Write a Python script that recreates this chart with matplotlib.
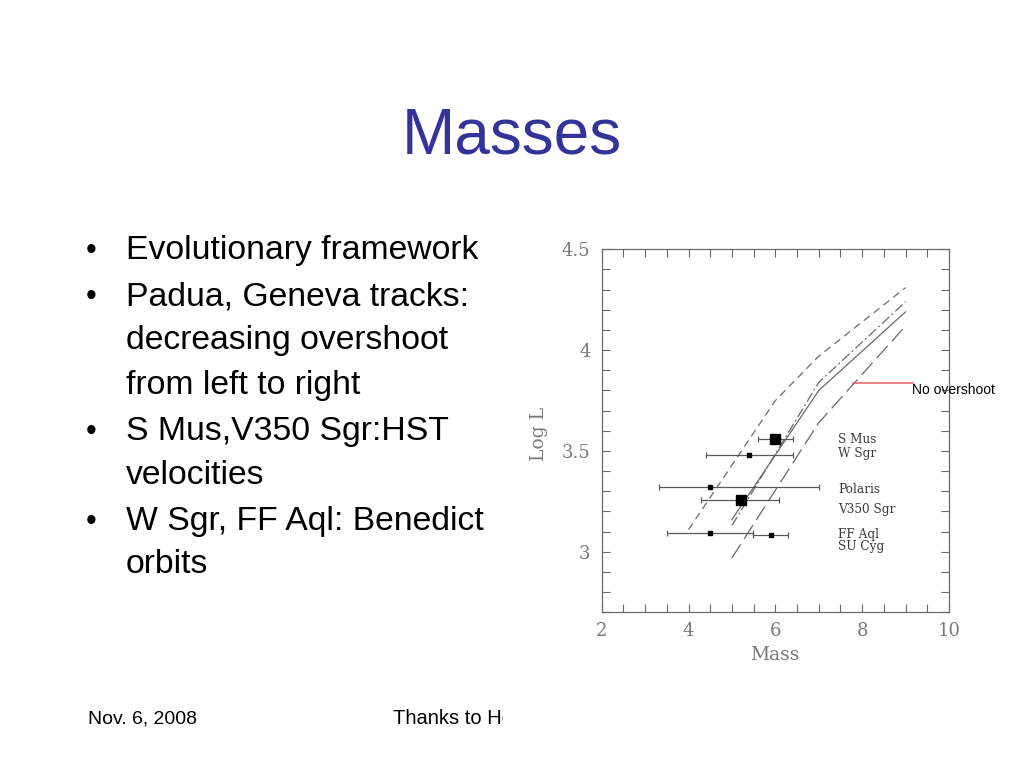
import matplotlib
matplotlib.use("Agg")
import matplotlib.pyplot as plt
from matplotlib.patches import Rectangle

# slide text
title = "Masses"
bullet_lines = [
    ("Evolutionary framework", True),
    ("Padua, Geneva tracks:", True),
    ("decreasing overshoot", False),
    ("from left to right", False),
    ("S Mus,V350 Sgr:HST", True),
    ("velocities", False),
    ("W Sgr, FF Aql: Benedict", True),
    ("orbits", False),
]
bullet_baselines = [259, 305, 349, 394, 440, 484, 530, 573]  # pixel rows
footer_left = "Nov. 6, 2008"
footer_mid = "Thanks to He"

# evolutionary tracks (mass, log L)
track_short_m = [4.0, 6.0, 7.0, 9.0]
track_short_l = [3.11, 3.75, 3.97, 4.31]
track_dashdot_m = [5.0, 7.0, 9.0]
track_dashdot_l = [3.13, 3.84, 4.24]
track_solid_m = [5.0, 7.0, 9.0]
track_solid_l = [3.16, 3.80, 4.19]
track_long_m = [5.0, 7.0, 9.0]
track_long_l = [2.97, 3.64, 4.12]

# stars: mass, mass error range, log L
star_names = ["S Mus", "W Sgr", "Polaris", "V350 Sgr", "FF Aql", "SU Cyg"]
star_mass = [5.99, 5.39, 4.50, 5.20, 4.50, 5.90]
star_lo = [5.61, 4.40, 3.31, 4.29, 3.50, 5.49]
star_hi = [6.41, 6.41, 7.00, 6.09, 5.49, 6.30]
star_logl = [3.561, 3.48, 3.32, 3.259, 3.091, 3.083]
star_big = [True, False, False, True, False, False]
label_logl = [3.558, 3.488, 3.31, 3.208, 3.087, 3.026]
label_mass = 7.45

W, H = 1024, 768
fig = plt.figure(figsize=(10.24, 7.68), dpi=100)
fig.patch.set_facecolor("white")

def fx(px):
    return px / W

def fy(py):
    return 1 - py / H

sans = ["Liberation Sans", "DejaVu Sans"]
serif = ["DejaVu Serif"]

fig.text(0.5, fy(154), title, ha="center", va="baseline", fontsize=46,
         color="#333399", family=sans)

for (txt, has_bullet), base in zip(bullet_lines, bullet_baselines):
    if has_bullet:
        fig.text(fx(86), fy(base), "\u2022", ha="left", va="baseline",
                 fontsize=22, color="black", family=sans)
    fig.text(fx(126), fy(base), txt, ha="left", va="baseline",
             fontsize=24.3, color="black", family=sans)

fig.text(fx(88), fy(724), footer_left, ha="left", va="baseline",
         fontsize=14, color="black", family=sans)
fig.text(fx(393), fy(724), footer_mid, ha="left", va="baseline",
         fontsize=14.5, color="black", family=sans, zorder=0)

# white picture area that covers the footer text
fig.patches.append(Rectangle((fx(503), fy(740)), fx(1000) - fx(503),
                             fy(225) - fy(740), transform=fig.transFigure,
                             facecolor="white", edgecolor="none", zorder=1))

ax = fig.add_axes([fx(601.7), fy(612.3), fx(949) - fx(601.7),
                   fy(249.3) - fy(612.3)])
ax.set_zorder(2)
ax.set_xlim(2, 10)
ax.set_ylim(2.7, 4.5)

gray = "#6a6a6a"
lw = 0.9
ax.plot(track_short_m, track_short_l, color=gray, lw=lw, dashes=(6, 4))
ax.plot(track_dashdot_m, track_dashdot_l, color=gray, lw=lw,
        dashes=(8, 2.5, 1.5, 2.5))
ax.plot(track_solid_m, track_solid_l, color=gray, lw=lw)
ax.plot(track_long_m, track_long_l, color=gray, lw=lw, dashes=(13, 5))

for m, lo, hi, l, big in zip(star_mass, star_lo, star_hi, star_logl, star_big):
    ax.errorbar([m], [l], xerr=[[m - lo], [hi - m]], fmt="none",
                ecolor="#5a5a5a", elinewidth=0.9, capsize=2.5, capthick=0.9)
    ax.plot([m], [l], marker="s", ls="none", color="black",
            ms=7.5 if big else 2.5, zorder=3)

for name, l in zip(star_names, label_logl):
    ax.text(label_mass, l, name, ha="left", va="center", fontsize=8.7,
            color="#3c3c3c", family=serif)

# red pointer to the no-overshoot track
ax.plot([7.8, 9.18], [3.837, 3.837], color="#e06060", lw=1.1)
fig.text(fx(912), fy(390), "No overshoot", ha="left", va="center",
         fontsize=10, color="black", family=sans, zorder=5)

tick_gray = "#7a7a7a"
ax.set_xticks([2, 4, 6, 8, 10])
ax.set_xticks([x / 2 for x in range(4, 21)], minor=True)
ax.set_yticks([3, 3.5, 4, 4.5])
ax.set_yticklabels(["3", "3.5", "4", "4.5"])
ax.set_yticks([2.7 + i * 0.1 for i in range(19)], minor=True)
ax.tick_params(which="both", direction="in", top=True, right=True,
               length=6, width=0.8, color=gray)
ax.tick_params(axis="x", which="major", pad=7, labelsize=13,
               labelcolor=tick_gray)
ax.tick_params(axis="y", which="major", pad=8, labelsize=13,
               labelcolor=tick_gray)
for lab in ax.get_xticklabels() + ax.get_yticklabels():
    lab.set_family(serif)
for sp in ax.spines.values():
    sp.set_color(gray)
    sp.set_linewidth(0.9)

ax.set_xlabel("Mass", fontsize=13.5, color=tick_gray, family=serif)
ax.set_ylabel("Log L", fontsize=13.5, color=tick_gray, family=serif)
ax.xaxis.set_label_coords(0.499, -0.093)
ax.yaxis.set_label_coords(-0.155, 0.49)

fig.savefig("out.png", dpi=100, facecolor="white")
